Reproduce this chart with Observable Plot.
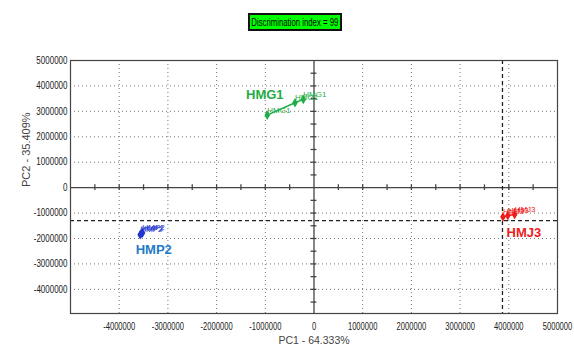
<!DOCTYPE html>
<html>
<head>
<meta charset="utf-8">
<script src="https://cdn.jsdelivr.net/npm/d3@7"></script>
<script src="https://cdn.jsdelivr.net/npm/@observablehq/plot@0.6"></script>
<style>
  body { margin: 0; background: #fff; }
  #wrap { position: relative; width: 574px; height: 350px; }
  #badge {
    position: absolute; left: 248px; top: 13px; width: 90px; height: 14px;
    background: #00ff00; border: 2px solid #111; overflow: hidden;
    font: 10.5px "Liberation Sans", Arial, sans-serif;
    line-height: 14px; text-align: center; color: #000; white-space: nowrap;
  }
  #badge span { display: inline-block; transform: scaleX(0.74); transform-origin: center; margin: 0 -30px; }
</style>
</head>
<body>
<div id="wrap"><div id="badge"><span></span></div></div>
<script>
const titleText = "Discrimination index = 99";
const xTitle = "PC1 - 64.333%";
const yTitle = "PC2 - 35.409%";
const xTicks = [-4000000, -3000000, -2000000, -1000000, 0, 1000000, 2000000, 3000000, 4000000, 5000000];
const yTicks = [-4000000, -3000000, -2000000, -1000000, 0, 1000000, 2000000, 3000000, 4000000, 5000000];
const axisMinorTicks = [-4500000, -4000000, -3500000, -3000000, -2500000, -2000000, -1500000, -1000000, -500000, 500000, 1000000, 1500000, 2000000, 2500000, 3000000, 3500000, 4000000, 4500000];

const groups = ["HMG1", "HMP2", "HMJ3"];
const hmg1X = [-960000, -390000, -220000];
const hmg1Y = [2850000, 3340000, 3470000];
const hmp2X = [-3570000, -3550000, -3520000];
const hmp2Y = [-1850000, -1810000, -1780000];
const hmj3X = [3880000, 3980000, 4120000];
const hmj3Y = [-1150000, -1100000, -1060000];
const groupLabelX = [-1010000, -3290000, 4310000];
const groupLabelY = [3660000, -2430000, -1760000];
const crossX = 3870000;
const crossY = -1300000;

const seriesColor = {HMG1: "#1fae45", HMP2: "#2236d0", HMJ3: "#ee1c1c"};
const labelColor = {HMG1: "#1fae45", HMP2: "#1f7bc8", HMJ3: "#ee1c1c"};

const pts = [];
[[hmg1X, hmg1Y], [hmp2X, hmp2Y], [hmj3X, hmj3Y]].forEach(([xs, ys], gi) => {
  xs.forEach((x, i) => pts.push({group: groups[gi], x, y: ys[i]}));
});
const bigLabels = groups.map((g, i) => ({group: g, x: groupLabelX[i], y: groupLabelY[i]}));

const font = '"Liberation Sans", Arial, sans-serif';

const chart = Plot.plot({
  width: 574,
  height: 350,
  marginLeft: 70,
  marginRight: 17,
  marginTop: 60,
  marginBottom: 37,
  style: {fontFamily: font, fontSize: "10px", color: "#222", background: "transparent"},
  x: {domain: [-5000000, 5000000], label: null},
  y: {domain: [-4950000, 5000000], label: null},
  marks: [
    Plot.ruleX(xTicks.filter(d => d !== 0 && d !== 5000000), {stroke: "#777", strokeDasharray: "1,3", strokeWidth: 1}),
    Plot.ruleY(yTicks.filter(d => d !== 0 && d !== 5000000), {stroke: "#777", strokeDasharray: "1,3", strokeWidth: 1}),
    Plot.ruleX([0], {stroke: "#444", strokeWidth: 1.3}),
    Plot.ruleY([0], {stroke: "#444", strokeWidth: 1.3}),
    Plot.ruleX(axisMinorTicks, {x: d => d, y1: -110000, y2: 110000, stroke: "#444", strokeWidth: 1.3}),
    Plot.ruleY(axisMinorTicks, {y: d => d, x1: -60000, x2: 60000, stroke: "#444", strokeWidth: 1.3}),
    Plot.ruleX([crossX], {stroke: "#222", strokeDasharray: "4,3", strokeWidth: 1.3}),
    Plot.ruleY([crossY], {stroke: "#222", strokeDasharray: "4,3", strokeWidth: 1.3}),
    Plot.frame({stroke: "#444", strokeWidth: 1.2}),
    Plot.axisX({ticks: xTicks, tickFormat: d => String(d), tickSize: 0, tickPadding: 9, fontSize: 10, fill: "#222", label: null}),
    Plot.axisY({ticks: yTicks, tickFormat: d => String(d), tickSize: 0, tickPadding: 3, fontSize: 10, fill: "#222", label: null}),
    Plot.line(pts, {x: "x", y: "y", z: "group", stroke: d => seriesColor[d.group], strokeWidth: 1.5}),
    Plot.dot(pts, {x: "x", y: "y", symbol: "diamond", r: 2, fill: d => seriesColor[d.group], stroke: d => seriesColor[d.group]}),
    Plot.text(pts, {x: "x", y: "y", text: "group", fill: d => seriesColor[d.group], fontSize: 8, textAnchor: "start", dx: 0, dy: -5}),
    Plot.text(bigLabels, {x: "x", y: "y", text: "group", fill: d => labelColor[d.group], fontSize: 13, fontWeight: "bold"}),
    Plot.text([yTitle], {frameAnchor: "left", dx: -44, rotate: -90, text: d => d, fontSize: 11, fill: "#444"}),
    Plot.text([xTitle], {frameAnchor: "bottom", dy: 30, text: d => d, fontSize: 10.5, fill: "#444", ariaLabel: "x-title"})
  ]
});
document.getElementById("wrap").prepend(chart);
document.querySelector("#badge span").textContent = titleText;

// condense the tick labels and x title like the narrow font in the reference
const condense = (sel, k) => {
  chart.querySelectorAll(sel).forEach(t => {
    const tr = t.getAttribute("transform") || "";
    t.setAttribute("transform", (tr + ` scale(${k},1)`).trim());
  });
};
condense('g[aria-label="x-axis tick label"] text', 0.76);
condense('g[aria-label="y-axis tick label"] text', 0.8);
condense('g[aria-label="x-title"] text', 0.85);
</script>
</body>
</html>
